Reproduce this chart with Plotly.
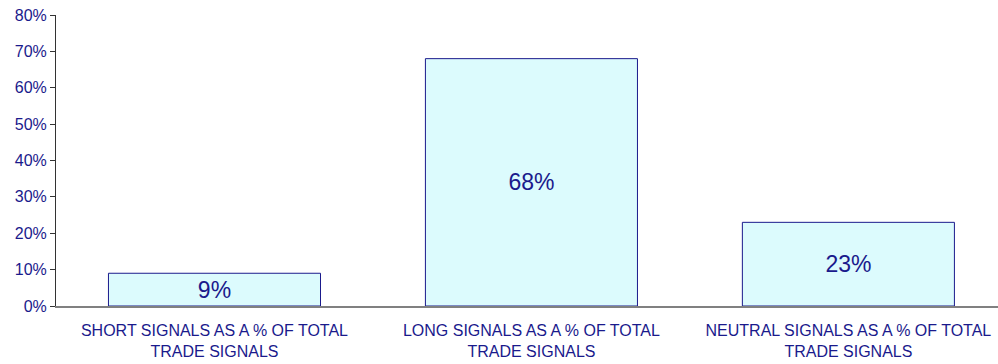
import plotly.graph_objects as go

categories = ["SHORT SIGNALS AS A % OF TOTAL<br>TRADE SIGNALS",
              "LONG SIGNALS AS A % OF TOTAL<br>TRADE SIGNALS",
              "NEUTRAL SIGNALS AS A % OF TOTAL<br>TRADE SIGNALS"]
values = [0.09, 0.68, 0.23]
labels = ["9%", "68%", "23%"]

navy = "#1A1A8C"
fig = go.Figure(go.Bar(
    x=categories, y=values, text=labels,
    textposition="inside", insidetextanchor="middle",
    textfont=dict(family="Liberation Sans, Arial", size=23, color=navy),
    marker=dict(color="#DCFBFD", line=dict(color=navy, width=1)),
    width=0.669,
))
fig.update_layout(
    width=998, height=364,
    margin=dict(l=56, r=0, t=15, b=58),
    plot_bgcolor="white", paper_bgcolor="white",
    showlegend=False,
    font=dict(family="Liberation Sans, Arial", size=16, color=navy),
)
fig.update_yaxes(range=[0, 0.8], dtick=0.1, tickformat=".0%",
                 showgrid=False, showline=True, linecolor="#333333", linewidth=1,
                 ticks="outside", ticklen=5, tickcolor="#333333", zeroline=False,
                 tickfont=dict(size=16, color=navy))
fig.update_xaxes(showline=True, linecolor="#808080", linewidth=1.5, ticks="",
                 range=[-0.5, 2.472],
                 ticklabelstandoff=9,
                 tickfont=dict(size=16, color=navy))
fig.write_html("out.html")
